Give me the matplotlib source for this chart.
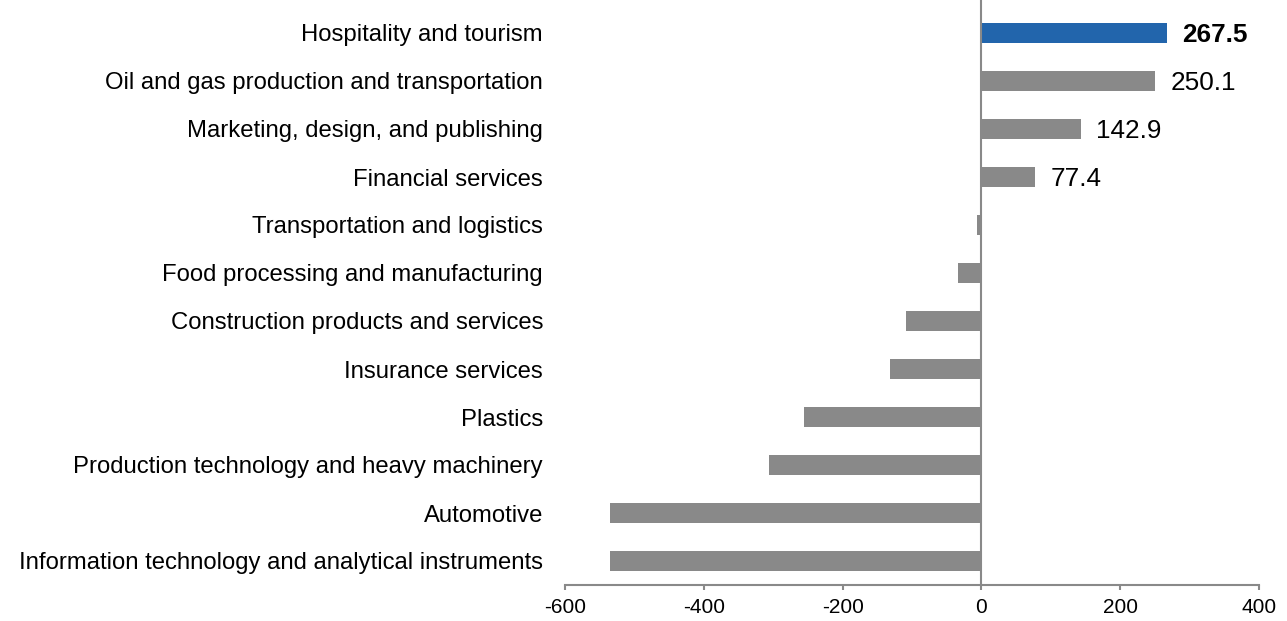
import matplotlib
matplotlib.use("Agg")
import matplotlib.pyplot as plt

categories = [
    "Hospitality and tourism",
    "Oil and gas production and transportation",
    "Marketing, design, and publishing",
    "Financial services",
    "Transportation and logistics",
    "Food processing and manufacturing",
    "Construction products and services",
    "Insurance services",
    "Plastics",
    "Production technology and heavy machinery",
    "Automotive",
    "Information technology and analytical instruments",
]
values = [267.5, 250.1, 142.9, 77.4, -7, -34, -108, -131, -255, -306, -535, -535]
labels = ["267.5", "250.1", "142.9", "77.4", "", "", "", "", "", "", "", ""]
xticks = [-600, -400, -200, 0, 200, 400]

plt.rcParams['font.family'] = ['Liberation Sans', 'DejaVu Sans']

fig = plt.figure(figsize=(12.87, 6.21), dpi=100)
ax = fig.add_axes([565/1287, 1 - 585/621, (1259-565)/1287, (585-9)/621])

n = len(categories)
ypos = list(range(n))[::-1]
colors = ['#2265AC'] + ['#898989'] * (n - 1)
ax.barh(ypos, values, height=0.4, color=colors, zorder=2)

for y, v, lab, i in zip(ypos, values, labels, range(n)):
    if lab:
        ax.text(v + 22, y, lab, va='center_baseline', ha='left', fontsize=18.8,
                fontweight='bold' if i == 0 else 'normal', color='black')

ax.set_xlim(-600, 400)
ax.set_ylim(-0.5, n - 0.5)
ax.set_xticks(xticks)
ax.set_xticklabels([str(t) for t in xticks], fontsize=15)
ax.set_yticks(ypos)
ax.set_yticklabels(categories, fontsize=17.2)
ax.tick_params(axis='y', length=0, pad=15.8)
ax.tick_params(axis='x', length=3.5, width=1.5, color='#898989', direction='out', pad=6)

for s in ['top', 'right', 'left']:
    ax.spines[s].set_visible(False)
ax.spines['bottom'].set_color('#898989')
ax.spines['bottom'].set_linewidth(1.5)
ax.axvline(0, ymin=0, ymax=1 + 9/576, color='#898989', linewidth=1.5, zorder=3, clip_on=False)

fig.savefig("out.png", dpi=100)
